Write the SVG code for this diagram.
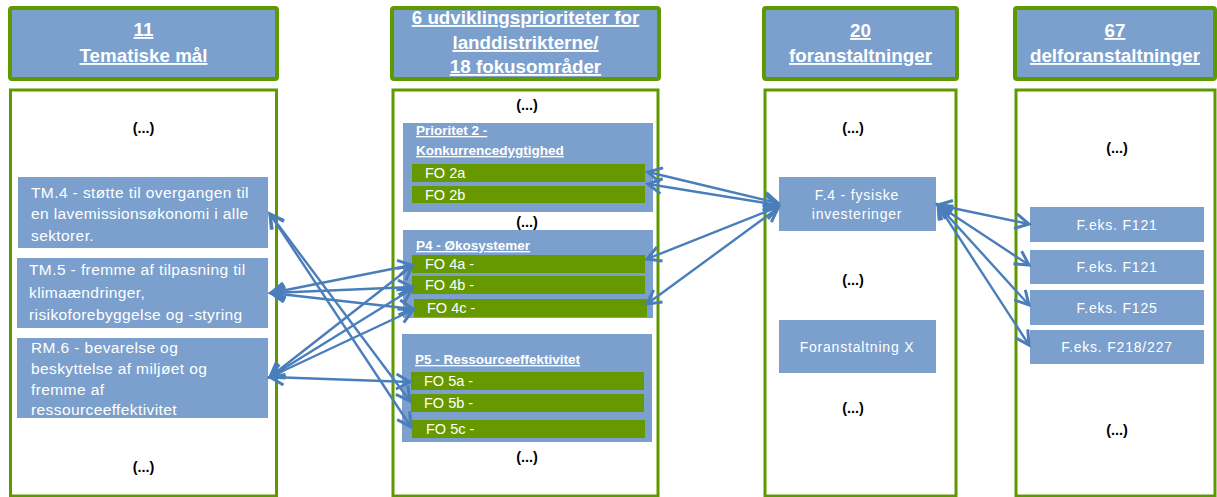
<svg xmlns="http://www.w3.org/2000/svg" width="1217" height="497" viewBox="0 0 1217 497">
<defs>
<style>
.hdr{fill:#7ba0cd;stroke:#5f9900;stroke-width:4}
.body{fill:#ffffff;stroke:#5f9900;stroke-width:3}
.node{fill:#7ba0cd}
.fo{fill:#669900}
.ht{font-family:"Liberation Sans",Arial,sans-serif;font-weight:bold;font-size:18.8px;fill:#ffffff;text-anchor:middle;text-decoration:underline}
.nt{font-family:"Liberation Sans",Arial,sans-serif;font-size:15.5px;fill:#ffffff;letter-spacing:0.4px}
.ct{font-family:"Liberation Sans",Arial,sans-serif;font-size:14px;fill:#ffffff;letter-spacing:0.8px;text-anchor:middle}
.pt{font-family:"Liberation Sans",Arial,sans-serif;font-weight:bold;font-size:13.5px;fill:#ffffff;text-decoration:underline}
.ft{font-family:"Liberation Sans",Arial,sans-serif;font-size:14.5px;fill:#ffffff}
.dots{font-family:"Liberation Sans",Arial,sans-serif;font-weight:bold;font-size:14.5px;fill:#000000;text-anchor:middle}
.arr{stroke:#4a7ebb;stroke-width:2.4;fill:none;marker-start:url(#ah);marker-end:url(#ah)}
</style>
<marker id="ah" markerUnits="userSpaceOnUse" markerWidth="20" markerHeight="20" refX="0" refY="0" viewBox="-13 -8 15 16" orient="auto-start-reverse" overflow="visible">
<path d="M-11,-6 L0,0 L-11,6" fill="none" stroke="#4a7ebb" stroke-width="2.4"/>
</marker>
</defs>

<g id="col1">
<rect class="hdr" x="10" y="8" width="267" height="71" rx="2"/>
<text class="ht" x="143.5" y="36">11</text>
<text class="ht" x="143.5" y="62">Tematiske mål</text>
<rect class="body" x="10.5" y="90" width="266" height="406"/>
<text class="dots" x="143.5" y="133">(...)</text>
<text class="dots" x="143.5" y="472">(...)</text>
</g>
<g id="tm4">
<rect class="node" x="18" y="177" width="250" height="71"/>
<text class="nt" x="31" y="198">TM.4 - støtte til overgangen til</text>
<text class="nt" x="31" y="219">en lavemissionsøkonomi i alle</text>
<text class="nt" x="31" y="241">sektorer.</text>
</g>
<g id="tm5">
<rect class="node" x="17" y="258" width="251" height="70"/>
<text class="nt" x="29" y="275">TM.5 - fremme af tilpasning til</text>
<text class="nt" x="29" y="298">klimaændringer,</text>
<text class="nt" x="29" y="320">risikoforebyggelse og -styring</text>
</g>
<g id="rm6">
<rect class="node" x="17" y="338" width="251" height="80"/>
<text class="nt" x="31" y="353">RM.6 - bevarelse og</text>
<text class="nt" x="31" y="374">beskyttelse af miljøet og</text>
<text class="nt" x="31" y="395">fremme af</text>
<text class="nt" x="31" y="415">ressourceeffektivitet</text>
</g>

<g id="col2">
<rect class="hdr" x="392" y="8" width="267" height="71" rx="2"/>
<text class="ht" x="525.5" y="24">6 udviklingsprioriteter for</text>
<text class="ht" x="525.5" y="49">landdistrikterne/</text>
<text class="ht" x="525.5" y="73">18 fokusområder</text>
<rect class="body" x="393" y="90" width="265" height="406"/>
<text class="dots" x="527" y="110">(...)</text>
<text class="dots" x="527" y="227">(...)</text>
<text class="dots" x="527" y="462">(...)</text>
</g>
<g id="p2">
<rect class="node" x="403" y="123" width="250" height="89"/>
<text class="pt" x="416" y="135">Prioritet  2 -</text>
<text class="pt" x="416" y="155">Konkurrencedygtighed</text>
</g>
<g id="fo2a"><rect class="fo" x="412" y="164" width="233" height="18"/><text class="ft" x="425" y="178">FO 2a</text></g>
<g id="fo2b"><rect class="fo" x="412" y="186" width="233" height="17"/><text class="ft" x="425" y="200">FO 2b</text></g>
<g id="p4">
<rect class="node" x="403" y="230" width="250" height="88"/>
<text class="pt" x="416" y="250">P4 - Økosystemer</text>
</g>
<g id="fo4a"><rect class="fo" x="412" y="255" width="233" height="18"/><text class="ft" x="425" y="269">FO 4a -</text></g>
<g id="fo4b"><rect class="fo" x="412" y="276" width="233" height="18"/><text class="ft" x="425" y="290">FO 4b -</text></g>
<g id="fo4c"><rect class="fo" x="414" y="299" width="233" height="18"/><text class="ft" x="427" y="313">FO 4c -</text></g>
<g id="p5">
<rect class="node" x="402" y="334" width="250" height="108"/>
<text class="pt" x="415" y="364">P5 - Ressourceeffektivitet</text>
</g>
<g id="fo5a"><rect class="fo" x="411" y="372" width="233" height="18"/><text class="ft" x="424" y="386">FO 5a -</text></g>
<g id="fo5b"><rect class="fo" x="411" y="394" width="233" height="18"/><text class="ft" x="424" y="408">FO 5b -</text></g>
<g id="fo5c"><rect class="fo" x="412" y="420" width="233" height="18"/><text class="ft" x="426" y="434">FO 5c -</text></g>

<g id="col3">
<rect class="hdr" x="764" y="8" width="193" height="71" rx="2"/>
<text class="ht" x="860.5" y="37">20</text>
<text class="ht" x="860.5" y="62">foranstaltninger</text>
<rect class="body" x="765" y="90" width="191" height="406"/>
<text class="dots" x="853" y="133">(...)</text>
<text class="dots" x="853" y="285">(...)</text>
<text class="dots" x="853" y="413">(...)</text>
</g>
<g id="f4">
<rect class="node" x="779" y="177" width="157" height="54"/>
<text class="ct" x="857" y="200">F.4 - fysiske</text>
<text class="ct" x="857" y="219">investeringer</text>
</g>
<g id="fx">
<rect class="node" x="779" y="320" width="157" height="53"/>
<text class="ct" x="857" y="352">Foranstaltning X</text>
</g>

<g id="col4">
<rect class="hdr" x="1015" y="8" width="200" height="71" rx="2"/>
<text class="ht" x="1115" y="37">67</text>
<text class="ht" x="1115" y="62">delforanstaltninger</text>
<rect class="body" x="1016" y="90" width="199" height="406"/>
<text class="dots" x="1117" y="153">(...)</text>
<text class="dots" x="1117" y="435">(...)</text>
</g>
<g id="d1"><rect class="node" x="1030" y="207" width="174" height="35"/><text class="ct" x="1117" y="230">F.eks. F121</text></g>
<g id="d2"><rect class="node" x="1030" y="250" width="174" height="34"/><text class="ct" x="1117" y="272">F.eks. F121</text></g>
<g id="d3"><rect class="node" x="1030" y="290" width="174" height="35"/><text class="ct" x="1117" y="313">F.eks. F125</text></g>
<g id="d4"><rect class="node" x="1030" y="330" width="174" height="34"/><text class="ct" x="1117" y="352">F.eks. F218/227</text></g>

<g id="connectors">
<line class="arr" x1="270" y1="214" x2="410" y2="401"/>
<line class="arr" x1="270" y1="214" x2="411" y2="427"/>
<line class="arr" x1="271" y1="293" x2="412" y2="265"/>
<line class="arr" x1="271" y1="293" x2="412" y2="287"/>
<line class="arr" x1="271" y1="293" x2="413" y2="309"/>
<line class="arr" x1="270" y1="377" x2="412" y2="266"/>
<line class="arr" x1="270" y1="377" x2="412" y2="289"/>
<line class="arr" x1="270" y1="377" x2="413" y2="310"/>
<line class="arr" x1="270" y1="377" x2="410" y2="382"/>
<line class="arr" x1="648" y1="172" x2="778" y2="203"/>
<line class="arr" x1="648" y1="184" x2="778" y2="205"/>
<line class="arr" x1="647" y1="259" x2="778" y2="207"/>
<line class="arr" x1="647" y1="304" x2="778" y2="208"/>
<line class="arr" x1="938" y1="205" x2="1029" y2="224"/>
<line class="arr" x1="938" y1="205" x2="1029" y2="265"/>
<line class="arr" x1="938" y1="205" x2="1029" y2="305"/>
<line class="arr" x1="938" y1="205" x2="1029" y2="345"/>
</g>
</svg>
